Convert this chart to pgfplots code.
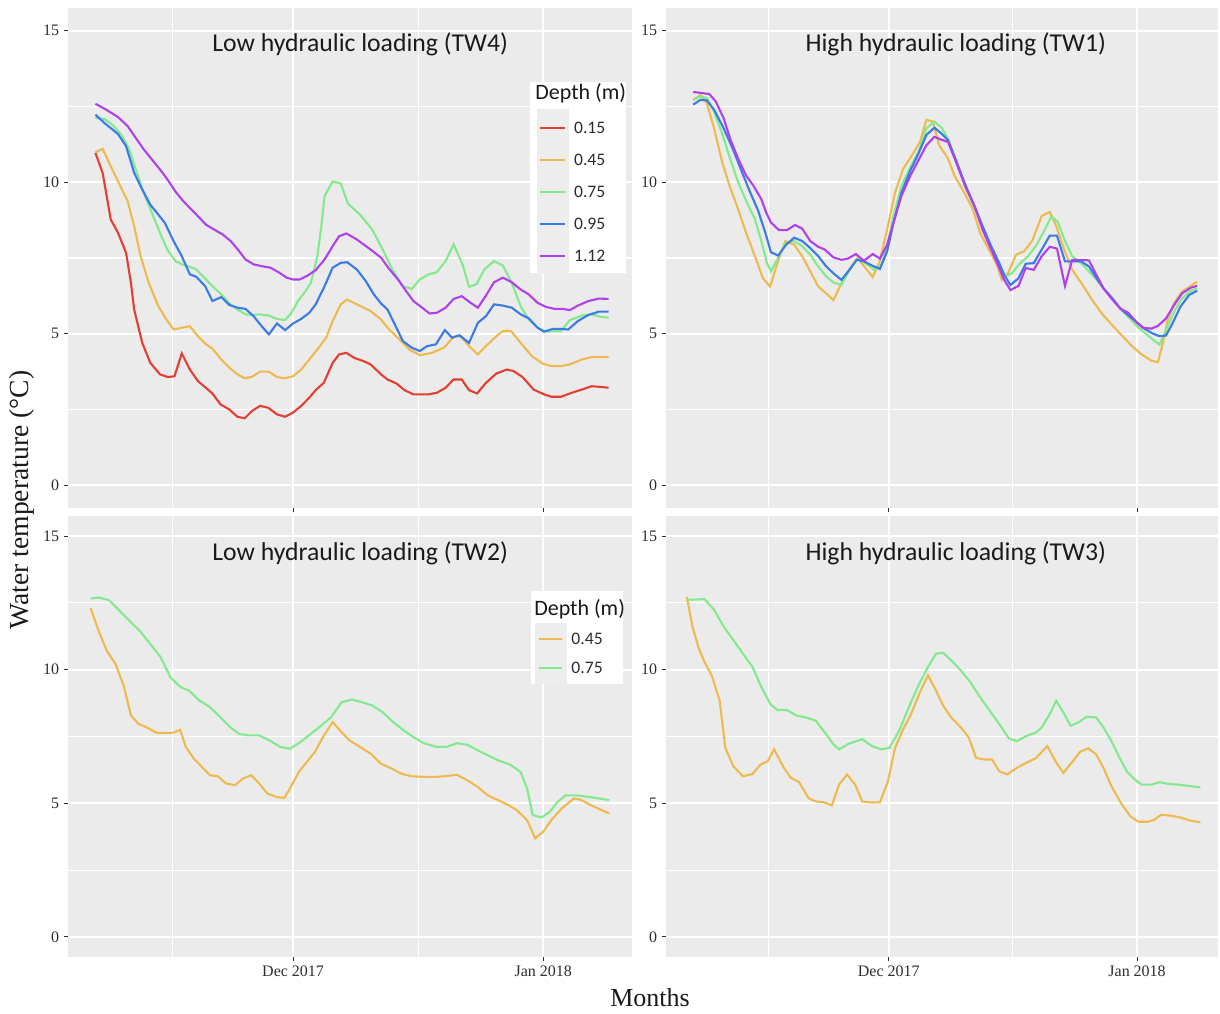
\documentclass[border=0pt]{standalone}
\usepackage{fontspec}
\setmainfont{Liberation Serif}
\newfontfamily\calfont{Carlito}
\usepackage{pgfplots}
\pgfplotsset{compat=1.18}

\definecolor{panelbg}{RGB}{235,235,235}
\definecolor{keybg}{RGB}{237,237,237}
\definecolor{tickc}{RGB}{45,45,45}
\definecolor{titlec}{RGB}{26,26,26}
\definecolor{c015}{RGB}{228,62,50}
\definecolor{c045}{RGB}{238,186,80}
\definecolor{c075}{RGB}{130,234,140}
\definecolor{c095}{RGB}{58,123,230}
\definecolor{c112}{RGB}{176,64,238}

\tikzset{
  ptitle/.style={font=\calfont\fontsize{12.85}{15}\selectfont, text=titlec, inner sep=0pt},
  legtitle/.style={font=\calfont\fontsize{11}{13}\selectfont, text=titlec, inner sep=0pt, anchor=west},
}

% x = days after 1 Dec 2017
\pgfplotsset{
  panel/.style={
    scale only axis,
    axis background/.style={fill=panelbg},
    axis line style={draw=none},
    ymin=-0.75, ymax=15.75,
    ytick={0,5,10,15},
    minor ytick={2.5,7.5,12.5},
    xtick={0,31},
    minor xtick={-15,15.5},
    grid=both,
    major grid style={white, line width=1.1pt},
    minor grid style={white, line width=0.55pt},
    tick align=outside,
    major tick length=2pt,
    minor tick length=0pt,
    tick style={tickc, line width=0.5pt},
    xtick pos=left, ytick pos=left,
    tick label style={font=\fontsize{8}{9}\selectfont, text=tickc, inner sep=2.2pt},
    /pgf/number format/assume math mode=true,
    every axis plot/.append style={line width=1.05pt, mark=none},
  },
  leftpanel/.style={panel, xmin=-27.9, xmax=42.0, width=282pt},
  rightpanel/.style={panel, xmin=-27.8, xmax=41.1, width=276pt},
  toppanel/.style={height=250pt, xticklabels={,,}},
  botpanel/.style={height=220.5pt, xticklabels={Dec 2017,Jan 2018}},
  depthlegend/.style={
    legend cell align=left,
    legend style={at={#1}, anchor=north west, draw=none, fill=none,
      inner sep=0pt, outer sep=0pt, row sep=0pt, column sep=0pt,
      font=\calfont\fontsize{8.8}{10}\selectfont, text=tickc,
      nodes={inner sep=0pt, text depth=0pt}},
  },
}

\begin{document}
\begin{tikzpicture}
\useasboundingbox (0,0) rectangle (610pt,506.5pt);

% ---------- top left: TW4 ----------
\begin{axis}[leftpanel, toppanel, at={(34pt,252.5pt)}, anchor=south west,
  depthlegend={(0.8316,0.7926)},
  legend image code/.code={
    \fill[keybg, overlay] (0pt,-8.6pt) rectangle (15pt,8.6pt);
    \draw (1pt,0pt) -- (13.5pt,0pt);
    \path (0pt,-7.5pt) (17.5pt,7.5pt);},
]
\addplot[c015] coordinates {
(-24.5,10.97) (-23.6,10.3) (-22.6,8.77) (-21.7,8.33) (-20.7,7.67) (-20.1,6.68)
(-19.7,5.8) (-18.7,4.7) (-17.7,4.04) (-16.5,3.66) (-15.5,3.57) (-14.7,3.6)
(-13.8,4.35) (-12.8,3.82) (-11.8,3.44) (-10.0,3.03) (-9.0,2.67) (-7.9,2.5)
(-6.9,2.26) (-6.0,2.21) (-5.1,2.45) (-4.1,2.62) (-3.1,2.56) (-2.0,2.34)
(-1.0,2.26) (0.0,2.4) (1.0,2.62) (2.0,2.89) (2.8,3.14) (3.8,3.38) (4.9,4.04)
(5.7,4.32) (6.6,4.37) (7.6,4.2) (8.7,4.1) (9.6,3.99) (10.9,3.66) (11.7,3.49)
(12.8,3.36) (13.8,3.14) (14.9,3.0) (16.8,3.0) (17.8,3.05) (18.9,3.22)
(19.9,3.49) (20.9,3.49) (21.8,3.14) (22.8,3.03) (23.9,3.38) (25.2,3.69)
(26.5,3.82) (27.3,3.77) (28.4,3.58) (29.8,3.16) (31.1,3.0) (32.0,2.92)
(33.2,2.92) (34.5,3.05) (35.8,3.16) (37.0,3.27) (37.9,3.25) (39.1,3.22)
};
\addlegendentry{0.15}
\addplot[c045] coordinates {
(-24.5,10.99) (-23.6,11.1) (-22.6,10.53) (-21.5,9.92) (-20.5,9.37) (-19.7,8.55)
(-18.9,7.56) (-17.9,6.68) (-16.7,5.91) (-15.7,5.47) (-14.8,5.14) (-13.8,5.2)
(-12.8,5.25) (-11.8,4.92) (-10.8,4.65) (-10.0,4.51) (-8.9,4.15) (-7.9,3.88)
(-6.9,3.66) (-6.0,3.53) (-5.1,3.58) (-4.1,3.75) (-3.0,3.75) (-2.0,3.57)
(-1.0,3.53) (0.0,3.6) (1.0,3.82) (2.0,4.15) (3.0,4.48) (4.1,4.87) (4.9,5.42)
(5.9,5.97) (6.7,6.13) (7.9,5.97) (9.6,5.75) (10.9,5.47) (11.9,5.14) (13.2,4.81)
(14.4,4.48) (15.7,4.29) (17.2,4.37) (18.7,4.54) (19.9,4.9) (20.8,4.92)
(21.8,4.59) (22.9,4.32) (23.9,4.59) (25.2,4.92) (26.0,5.09) (27.0,5.09)
(28.2,4.7) (29.6,4.26) (30.9,4.02) (32.0,3.93) (33.2,3.93) (34.3,3.99)
(35.8,4.15) (37.0,4.23) (39.1,4.23)
};
\addlegendentry{0.45}
\addplot[c075] coordinates {
(-24.5,12.12) (-23.4,12.09) (-22.4,11.9) (-21.3,11.57) (-20.3,11.08) (-19.5,10.42)
(-18.5,9.65) (-17.5,8.99) (-16.5,8.33) (-15.6,7.78) (-14.6,7.4) (-13.8,7.29)
(-13.0,7.23) (-12.0,7.12) (-11.0,6.85) (-10.0,6.57) (-8.9,6.3) (-7.9,6.0)
(-6.9,5.8) (-5.9,5.64) (-5.1,5.62) (-4.1,5.64) (-3.0,5.6) (-2.0,5.49)
(-1.0,5.45) (-0.2,5.69) (0.6,6.08) (1.4,6.35) (2.2,6.68) (3.0,7.56) (3.5,8.55)
(3.9,9.54) (4.9,10.03) (5.9,9.96) (6.8,9.29) (8.3,8.93) (9.8,8.44) (11.1,7.78)
(12.3,7.12) (13.6,6.57) (14.7,6.48) (15.7,6.79) (16.8,6.96) (17.8,7.03)
(18.9,7.4) (19.9,7.95) (21.0,7.29) (21.8,6.55) (22.7,6.63) (23.7,7.12)
(24.9,7.4) (26.0,7.25) (27.1,6.68) (28.2,5.91) (29.2,5.47) (30.3,5.2)
(31.3,5.07) (33.2,5.09) (34.3,5.45) (35.8,5.6) (37.0,5.64) (38.1,5.56) (39.1,5.53)
};
\addlegendentry{0.75}
\addplot[c095] coordinates {
(-24.5,12.23) (-23.4,11.96) (-21.7,11.59) (-20.7,11.19) (-19.7,10.31) (-18.7,9.76)
(-17.7,9.26) (-16.7,8.93) (-15.9,8.66) (-14.8,8.05) (-13.8,7.56) (-12.8,6.96)
(-12.0,6.88) (-10.9,6.57) (-10.0,6.08) (-8.9,6.21) (-7.9,5.95) (-6.9,5.86)
(-5.9,5.82) (-4.9,5.58) (-3.9,5.25) (-3.0,4.98) (-2.0,5.34) (-1.0,5.12)
(0.0,5.34) (1.0,5.49) (2.0,5.69) (2.8,5.97) (3.9,6.57) (4.9,7.18) (5.9,7.34)
(6.7,7.36) (7.9,7.12) (9.0,6.74) (10.0,6.3) (10.9,6.0) (11.7,5.8) (12.8,5.2)
(13.6,4.76) (14.7,4.54) (15.7,4.43) (16.6,4.59) (17.7,4.65) (18.8,5.12)
(19.7,4.87) (20.6,4.95) (21.8,4.7) (22.9,5.36) (23.9,5.58) (24.9,5.97)
(26.0,5.93) (27.1,5.86) (28.2,5.64) (29.2,5.51) (30.3,5.2) (31.1,5.07)
(32.2,5.16) (33.2,5.16) (34.1,5.14) (35.3,5.42) (36.6,5.62) (37.9,5.73) (39.1,5.73)
};
\addlegendentry{0.95}
\addplot[c112] coordinates {
(-24.5,12.59) (-23.2,12.4) (-21.7,12.15) (-20.5,11.85) (-19.5,11.46) (-18.5,11.08)
(-17.5,10.75) (-16.5,10.42) (-15.7,10.14) (-14.6,9.7) (-13.6,9.37) (-12.6,9.1)
(-11.8,8.88) (-10.8,8.6) (-9.8,8.44) (-8.7,8.27) (-7.7,8.05) (-6.7,7.73)
(-5.9,7.45) (-4.9,7.29) (-3.9,7.23) (-2.8,7.18) (-1.8,7.03) (-0.8,6.85)
(0.0,6.79) (0.8,6.79) (1.8,6.92) (2.8,7.1) (3.9,7.45) (4.9,7.89) (5.7,8.22)
(6.6,8.31) (7.9,8.11) (9.6,7.78) (10.9,7.51) (11.9,7.14) (13.0,6.79) (14.0,6.41)
(14.9,6.08) (15.9,5.88) (16.9,5.67) (17.8,5.69) (18.9,5.86) (19.9,6.15)
(20.9,6.24) (21.9,6.04) (22.9,5.86) (23.9,6.26) (24.9,6.7) (26.0,6.85)
(27.1,6.7) (28.2,6.46) (29.2,6.3) (30.3,6.02) (31.3,5.89) (32.4,5.82)
(33.4,5.82) (34.3,5.78) (35.3,5.93) (36.6,6.08) (37.9,6.16) (39.1,6.15)
};
\addlegendentry{1.12}
\fill[white] (rel axis cs:0.820,0.852) rectangle (rel axis cs:0.990,0.470);
\node[legtitle] at (rel axis cs:0.828,0.830) {Depth (m)};
\node[ptitle] at (rel axis cs:0.518,0.927) {Low hydraulic loading (TW4)};
\end{axis}

% ---------- top right: TW1 ----------
\begin{axis}[rightpanel, toppanel, at={(333pt,252.5pt)}, anchor=south west]
\addplot[c045] coordinates {
(-24.4,12.72) (-23.5,12.87) (-22.7,12.61) (-21.8,11.78) (-20.8,10.67) (-19.8,9.83)
(-18.8,9.11) (-17.8,8.33) (-16.7,7.56) (-15.7,6.83) (-14.8,6.56) (-13.9,7.33)
(-12.9,8.06) (-11.8,7.94) (-10.8,7.56) (-9.8,7.06) (-8.8,6.56) (-7.8,6.33)
(-6.9,6.11) (-5.9,6.67) (-4.9,7.13) (-3.9,7.5) (-2.9,7.17) (-2.0,6.87)
(-1.2,7.33) (-0.2,8.44) (0.8,9.67) (1.8,10.44) (2.9,10.89) (3.9,11.33)
(4.7,12.06) (5.5,12.0) (6.3,11.22) (7.4,10.78) (8.2,10.22) (9.4,9.67)
(10.5,9.11) (11.4,8.33) (12.5,7.78) (13.5,7.28) (14.1,6.78) (14.9,7.0)
(15.9,7.61) (16.9,7.72) (17.9,8.06) (19.1,8.89) (20.1,9.02) (20.9,8.56)
(21.9,7.78) (22.9,7.11) (24.2,6.61) (25.4,6.11) (26.6,5.67) (27.9,5.28)
(29.1,4.94) (30.3,4.61) (31.5,4.33) (32.8,4.11) (33.6,4.06) (34.2,4.67)
(34.8,5.44) (35.6,6.0) (36.6,6.39) (37.7,6.58) (38.5,6.72)
};
\addplot[c075] coordinates {
(-24.4,12.72) (-23.5,12.83) (-22.7,12.78) (-21.8,12.33) (-20.8,11.61) (-19.8,10.78)
(-18.8,10.0) (-17.8,9.39) (-16.7,8.78) (-15.9,8.06) (-15.2,7.33) (-14.7,7.06)
(-13.7,7.56) (-12.9,8.0) (-11.8,8.06) (-10.8,7.89) (-9.8,7.61) (-8.8,7.22)
(-7.8,6.89) (-6.9,6.69) (-5.9,6.61) (-4.9,7.11) (-3.9,7.47) (-2.9,7.33)
(-1.8,7.11) (-1.0,7.22) (-0.2,7.89) (0.6,8.89) (1.6,9.89) (2.7,10.5) (3.7,11.0)
(4.7,11.78) (5.7,12.0) (6.6,11.8) (7.4,11.44) (8.4,10.72) (9.6,9.83) (10.7,9.17)
(11.7,8.5) (12.7,7.89) (13.8,7.28) (14.6,6.89) (15.4,7.0) (16.4,7.33)
(17.4,7.56) (18.4,7.91) (19.5,8.44) (20.3,8.87) (21.1,8.69) (22.0,8.06)
(22.9,7.56) (24.0,7.33) (25.0,7.06) (26.0,6.76) (27.0,6.44) (28.1,6.11)
(29.1,5.78) (30.1,5.5) (31.1,5.22) (32.1,5.0) (33.0,4.8) (33.8,4.64)
(34.6,5.11) (35.6,5.72) (36.6,6.17) (37.7,6.41) (38.5,6.5)
};
\addplot[c095] coordinates {
(-24.4,12.56) (-23.5,12.72) (-22.7,12.7) (-21.8,12.39) (-20.6,11.78) (-19.4,11.06)
(-18.4,10.39) (-17.3,9.67) (-16.3,9.06) (-15.4,8.33) (-14.7,7.69) (-13.8,7.58)
(-12.8,7.94) (-11.8,8.17) (-10.8,8.06) (-9.8,7.83) (-8.8,7.56) (-7.8,7.22)
(-6.8,6.97) (-5.9,6.78) (-4.9,7.11) (-4.0,7.44) (-3.1,7.39) (-2.0,7.24)
(-1.1,7.14) (-0.2,7.72) (0.6,8.67) (1.6,9.67) (2.7,10.39) (3.7,10.94)
(4.7,11.56) (5.7,11.8) (6.6,11.6) (7.4,11.39) (8.4,10.72) (9.6,9.89)
(10.7,9.22) (11.7,8.56) (12.7,7.94) (13.8,7.33) (14.4,6.94) (15.2,6.61)
(16.2,6.83) (17.1,7.31) (18.1,7.33) (19.1,7.78) (20.1,8.24) (21.0,8.24)
(22.0,7.39) (22.9,7.39) (24.0,7.39) (25.0,7.22) (25.8,6.89) (26.8,6.5)
(27.9,6.17) (28.9,5.83) (29.9,5.61) (30.9,5.39) (31.9,5.17) (33.0,5.0)
(33.8,4.92) (34.6,4.94) (35.4,5.33) (36.4,5.89) (37.5,6.28) (38.5,6.42)
};
\addplot[c112] coordinates {
(-24.4,12.98) (-22.4,12.91) (-21.6,12.67) (-20.6,12.11) (-19.8,11.44) (-18.8,10.78)
(-17.8,10.22) (-16.9,9.89) (-15.9,9.44) (-15.3,9.0) (-14.7,8.67) (-13.7,8.42)
(-12.7,8.42) (-11.7,8.59) (-10.8,8.47) (-9.8,8.06) (-8.8,7.87) (-8.0,7.78)
(-6.9,7.52) (-5.9,7.44) (-5.1,7.48) (-4.1,7.63) (-3.1,7.41) (-2.0,7.63)
(-1.1,7.48) (-0.2,7.94) (0.6,8.67) (1.6,9.56) (2.7,10.22) (3.7,10.72)
(4.7,11.22) (5.7,11.5) (6.6,11.4) (7.4,11.33) (8.4,10.67) (9.6,9.83)
(10.7,9.22) (11.7,8.44) (12.7,7.83) (13.8,7.17) (14.4,6.78) (15.2,6.44)
(16.2,6.58) (17.1,7.17) (18.1,7.11) (19.1,7.56) (20.1,7.87) (21.0,7.81)
(22.0,6.58) (22.9,7.44) (24.0,7.44) (25.0,7.42) (25.8,7.0) (26.8,6.5)
(27.9,6.13) (28.9,5.83) (29.9,5.69) (30.9,5.39) (31.7,5.2) (32.8,5.17)
(33.6,5.26) (34.6,5.5) (35.6,5.94) (36.6,6.33) (37.7,6.52) (38.5,6.58)
};
\node[ptitle] at (rel axis cs:0.525,0.927) {High hydraulic loading (TW1)};
\end{axis}

% ---------- bottom left: TW2 ----------
\begin{axis}[leftpanel, botpanel, at={(34pt,28pt)}, anchor=south west,
  depthlegend={(0.828,0.754)},
  legend image code/.code={
    \fill[keybg, overlay] (0pt,-7.6pt) rectangle (15pt,7.6pt);
    \draw (1.5pt,0pt) -- (13pt,0pt);
    \path (0pt,-6.7pt) (17.2pt,6.7pt);},
]
\addplot[c045] coordinates {
(-25.1,12.3) (-24.1,11.45) (-23.1,10.71) (-22.0,10.21) (-21.0,9.4) (-20.1,8.29)
(-19.2,7.98) (-18.2,7.85) (-16.9,7.64) (-15.9,7.63) (-14.9,7.64) (-14.0,7.75)
(-13.3,7.11) (-12.3,6.67) (-11.3,6.36) (-10.3,6.05) (-9.3,6.01) (-8.3,5.74)
(-7.2,5.68) (-6.2,5.93) (-5.2,6.05) (-4.2,5.74) (-3.2,5.37) (-2.1,5.24)
(-1.1,5.2) (-0.4,5.55) (0.7,6.17) (1.7,6.55) (2.7,6.92) (3.7,7.48) (4.9,8.04)
(5.8,7.73) (7.0,7.35) (8.3,7.11) (9.6,6.86) (10.9,6.48) (12.1,6.32) (13.4,6.11)
(14.7,6.01) (16.2,5.99) (17.8,5.99) (19.0,6.02) (20.3,6.07) (21.6,5.86)
(22.9,5.61) (24.1,5.3) (25.4,5.12) (26.7,4.93) (27.7,4.75) (29.0,4.37)
(30.0,3.69) (31.0,3.94) (32.0,4.37) (33.3,4.81) (34.8,5.18) (35.6,5.14)
(36.9,4.93) (38.2,4.75) (39.2,4.62)
};
\addlegendentry{0.45}
\addplot[c075] coordinates {
(-25.1,12.66) (-24.1,12.7) (-22.8,12.6) (-21.5,12.2) (-20.3,11.83) (-19.0,11.45)
(-17.7,10.96) (-16.4,10.46) (-15.2,9.71) (-13.9,9.34) (-12.9,9.22) (-11.6,8.84)
(-10.3,8.6) (-9.0,8.22) (-7.8,7.85) (-6.7,7.6) (-5.5,7.54) (-4.2,7.54)
(-2.9,7.35) (-1.6,7.11) (-0.4,7.04) (0.9,7.29) (2.2,7.6) (3.5,7.91) (4.7,8.22)
(6.0,8.78) (7.3,8.88) (8.6,8.78) (9.8,8.66) (11.1,8.41) (12.4,8.04) (13.7,7.73)
(14.9,7.48) (16.2,7.25) (17.8,7.11) (19.0,7.11) (20.3,7.25) (21.6,7.19)
(22.9,6.98) (24.1,6.8) (25.4,6.61) (26.9,6.45) (28.2,6.17) (29.0,5.55)
(29.7,4.56) (30.8,4.47) (31.8,4.68) (32.8,5.06) (33.8,5.3) (35.1,5.3)
(36.6,5.24) (37.9,5.18) (39.2,5.12)
};
\addlegendentry{0.75}
\fill[white] (rel axis cs:0.821,0.830) rectangle (rel axis cs:0.984,0.620);
\node[legtitle] at (rel axis cs:0.826,0.789) {Depth (m)};
\node[ptitle] at (rel axis cs:0.518,0.915) {Low hydraulic loading (TW2)};
\end{axis}

% ---------- bottom right: TW3 ----------
\begin{axis}[rightpanel, botpanel, at={(333pt,28pt)}, anchor=south west]
\addplot[c045] coordinates {
(-25.2,12.72) (-24.5,11.61) (-23.7,10.79) (-23.0,10.29) (-22.1,9.79) (-21.1,8.84)
(-20.4,7.08) (-19.4,6.39) (-18.2,6.01) (-17.0,6.1) (-16.0,6.45) (-15.1,6.58)
(-14.3,7.02) (-13.1,6.33) (-12.2,5.95) (-11.2,5.8) (-10.0,5.19) (-9.1,5.07)
(-8.1,5.04) (-7.1,4.92) (-6.2,5.7) (-5.2,6.08) (-4.2,5.7) (-3.3,5.07)
(-2.1,5.03) (-1.1,5.04) (-0.1,5.82) (0.8,7.08) (1.8,7.77) (2.7,8.28) (3.9,9.16)
(4.9,9.79) (5.9,9.22) (6.8,8.65) (7.8,8.21) (9.0,7.84) (10.0,7.46) (10.9,6.7)
(11.9,6.64) (12.9,6.64) (13.8,6.2) (14.8,6.08) (16.0,6.33) (17.2,6.52)
(18.4,6.7) (19.8,7.14) (20.8,6.58) (21.8,6.14) (23.0,6.58) (23.9,6.93)
(24.9,7.06) (25.9,6.83) (26.8,6.33) (27.8,5.64) (29.0,5.0) (30.2,4.5)
(31.2,4.31) (32.4,4.31) (33.1,4.38) (34.0,4.57) (35.2,4.54) (36.4,4.47)
(37.7,4.35) (38.9,4.29)
};
\addplot[c075] coordinates {
(-25.2,12.62) (-24.5,12.62) (-23.0,12.64) (-21.8,12.24) (-20.6,11.61) (-19.4,11.11)
(-18.2,10.6) (-17.0,10.1) (-15.9,9.35) (-14.8,8.72) (-13.9,8.49) (-12.7,8.49)
(-11.5,8.28) (-10.3,8.21) (-9.1,8.09) (-7.8,7.58) (-6.9,7.21) (-6.2,7.02)
(-5.0,7.23) (-3.3,7.4) (-2.1,7.14) (-0.9,7.02) (0.1,7.08) (1.3,7.71) (2.5,8.59)
(3.7,9.41) (4.9,10.1) (5.9,10.6) (6.8,10.63) (7.8,10.35) (9.0,9.97) (10.2,9.53)
(11.4,8.97) (12.6,8.47) (13.8,7.96) (15.0,7.43) (16.0,7.33) (17.2,7.52)
(18.4,7.65) (19.1,7.84) (20.1,8.34) (20.9,8.84) (21.8,8.4) (22.7,7.9)
(23.7,8.03) (24.7,8.24) (25.9,8.21) (26.8,7.84) (27.8,7.33) (28.7,6.77)
(29.7,6.2) (30.7,5.89) (31.6,5.7) (32.8,5.7) (33.8,5.79) (35.0,5.72)
(36.2,5.7) (37.7,5.64) (38.9,5.6)
};
\node[ptitle] at (rel axis cs:0.525,0.915) {High hydraulic loading (TW3)};
\end{axis}

% shared axis titles
\node[rotate=90, font=\fontsize{13.8}{16}\selectfont, text=titlec] at (11pt,256.5pt) {Water temperature (°C)};
\node[font=\fontsize{13}{15}\selectfont, text=titlec] at (325pt,7.5pt) {Months};
\end{tikzpicture}
\end{document}
